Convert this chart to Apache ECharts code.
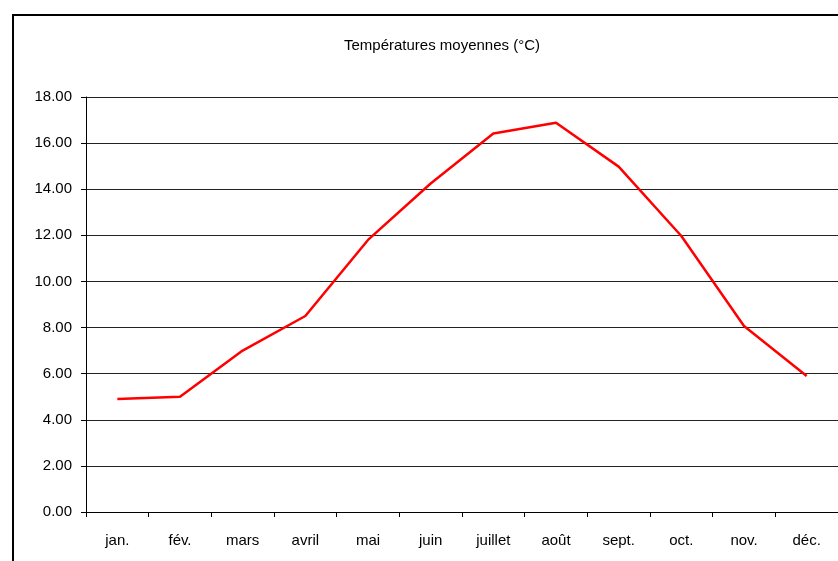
<!DOCTYPE html>
<html>
<head>
<meta charset="utf-8">
<script src="https://cdn.jsdelivr.net/npm/echarts@6/dist/echarts.min.js"></script>
<style>
  html, body { margin: 0; padding: 0; background: #fff; }
  #chart { width: 838px; height: 561px; }
</style>
</head>
<body>
<div id="chart"></div>
<script>
// mois et températures moyennes
const mois = ["jan.", "fév.", "mars", "avril", "mai", "juin", "juillet", "août", "sept.", "oct.", "nov.", "déc."];
const temperatures = [4.9, 5.0, 7.0, 8.5, 11.8, 14.25, 16.42, 16.88, 14.98, 11.97, 8.07, 5.9];

const myChart = echarts.init(document.getElementById("chart"));
myChart.setOption({
  animation: false,
  textStyle: { fontFamily: "Liberation Sans, Arial, sans-serif" },
  graphic: [
    {
      // cadre du graphique
      type: "rect",
      shape: { x: 13, y: 15, width: 900, height: 700 },
      style: { fill: "none", stroke: "#000", lineWidth: 2 },
      silent: true
    }
  ],
  title: {
    text: "Températures moyennes (°C)",
    left: 437,
    textAlign: "center",
    top: 33,
    textStyle: { fontSize: 15, fontWeight: "normal", color: "#000" }
  },
  grid: { left: 86, right: 0, top: 97, bottom: 49, containLabel: false },
  xAxis: {
    type: "category",
    data: mois,
    boundaryGap: true,
    axisLine: { lineStyle: { color: "#000", width: 1 } },
    axisTick: { show: true, length: 5, alignWithLabel: false, lineStyle: { color: "#000" } },
    axisLabel: { color: "#000", fontSize: 15, margin: 21 },
    splitLine: { show: false }
  },
  yAxis: {
    type: "value",
    min: 0,
    max: 18,
    interval: 2,
    axisLine: { show: true, lineStyle: { color: "#000", width: 1 } },
    axisTick: { show: true, length: 5, lineStyle: { color: "#000" } },
    axisLabel: {
      color: "#000",
      fontSize: 15,
      margin: 14,
      formatter: (v) => v.toFixed(2)
    },
    splitLine: { show: true, lineStyle: { color: "#222", width: 1 } }
  },
  series: [
    {
      name: "Températures moyennes",
      type: "line",
      data: temperatures,
      symbol: "none",
      lineStyle: { color: "#ff0000", width: 2.5 }
    }
  ]
});
</script>
</body>
</html>
